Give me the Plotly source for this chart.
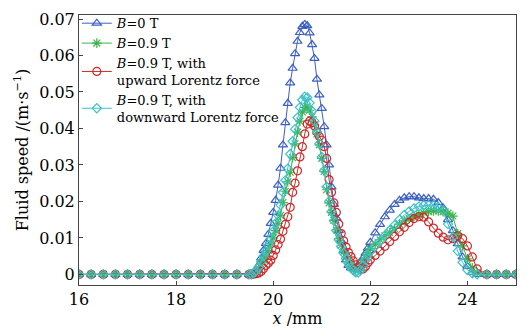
import plotly.graph_objects as go

x_flat = [16.0, 16.25, 16.5, 16.75, 17.0, 17.25, 17.5, 17.75, 18.0, 18.25, 18.5, 18.75, 19.0, 19.25, 19.5]
x_dense = [19.55, 19.60, 19.65, 19.70, 19.75, 19.80, 19.85, 19.90, 19.95, 20.00,
           20.05, 20.10, 20.15, 20.20, 20.25, 20.30, 20.35, 20.40, 20.45, 20.50,
           20.55, 20.60, 20.65, 20.70, 20.75, 20.80, 20.85, 20.90, 20.95, 21.00,
           21.05, 21.10, 21.15, 21.20, 21.25, 21.30, 21.35, 21.40, 21.45, 21.50,
           21.55, 21.60, 21.65, 21.70, 21.75, 21.80, 21.85, 21.90, 21.95]
x_hump = [22.0, 22.1, 22.2, 22.3, 22.4, 22.5, 22.6, 22.7, 22.8, 22.9, 23.0,
          23.1, 23.2, 23.3, 23.4, 23.5, 23.6, 23.7, 23.8, 23.9, 24.0, 24.1, 24.2]
x_tail = [24.4, 24.6, 24.8, 25.0]
x_mm = x_flat + x_dense + x_hump + x_tail

flat_zero = [0.0, 0.0, 0.0, 0.0, 0.0, 0.0, 0.0, 0.0, 0.0, 0.0, 0.0, 0.0, 0.0, 0.0, 0.0]
tail_zero = [0.0, 0.0, 0.0, 0.0]

b0_dense = [0.0002, 0.0005, 0.0011, 0.0025, 0.0045, 0.0066, 0.0085, 0.0110, 0.0140, 0.0170,
            0.0203, 0.0245, 0.0291, 0.0355, 0.0416, 0.0469, 0.0525, 0.0565, 0.0605, 0.0639,
            0.0663, 0.0680, 0.0685, 0.0682, 0.0662, 0.0630, 0.0592, 0.0535, 0.0492, 0.0455,
            0.0405, 0.0355, 0.0300, 0.0240, 0.0192, 0.0155, 0.0120, 0.0092, 0.0065, 0.0040,
            0.0025, 0.0018, 0.0015, 0.0016, 0.0022, 0.0033, 0.0045, 0.0058, 0.0072]
b0_hump = [0.0088, 0.0114, 0.0137, 0.0158, 0.0176, 0.0192, 0.0203, 0.0210, 0.0213, 0.0213, 0.0210,
           0.0208, 0.0208, 0.0206, 0.0197, 0.0182, 0.0150, 0.0120, 0.0084, 0.0048, 0.0022, 0.0006, 0.0]

b9_dense = [0.0, 0.0003, 0.0008, 0.0015, 0.0028, 0.0040, 0.0050, 0.0066, 0.0084, 0.0100,
            0.0120, 0.0140, 0.0162, 0.0197, 0.0228, 0.0254, 0.0280, 0.0320, 0.0358, 0.0390,
            0.0420, 0.0445, 0.0458, 0.0460, 0.0450, 0.0432, 0.0410, 0.0385, 0.0355, 0.0318,
            0.0282, 0.0232, 0.0196, 0.0170, 0.0148, 0.0122, 0.0098, 0.0080, 0.0062, 0.0047,
            0.0035, 0.0023, 0.0015, 0.0010, 0.0012, 0.0020, 0.0033, 0.0047, 0.0060]
b9_hump = [0.0070, 0.0083, 0.0095, 0.0106, 0.0115, 0.0126, 0.0138, 0.0147, 0.0153, 0.0159, 0.0165,
           0.0169, 0.0172, 0.0174, 0.0174, 0.0172, 0.0168, 0.0160, 0.0112, 0.0078, 0.0043, 0.0018, 0.0005]

up_dense = [0.0, 0.0001, 0.0002, 0.0004, 0.0008, 0.0016, 0.0025, 0.0031, 0.0039, 0.0052,
            0.0067, 0.0082, 0.0097, 0.0118, 0.0137, 0.0158, 0.0184, 0.0225, 0.0250, 0.0284,
            0.0322, 0.0350, 0.0385, 0.0412, 0.0420, 0.0416, 0.0407, 0.0390, 0.0378, 0.0368,
            0.0350, 0.0318, 0.0260, 0.0225, 0.0196, 0.0170, 0.0138, 0.0112, 0.0092, 0.0075,
            0.0060, 0.0049, 0.0037, 0.0026, 0.0018, 0.0014, 0.0015, 0.0022, 0.0032]
up_hump = [0.0040, 0.0052, 0.0064, 0.0077, 0.0090, 0.0104, 0.0117, 0.0129, 0.0142, 0.0153, 0.0158,
           0.0157, 0.0144, 0.0127, 0.0113, 0.0102, 0.0095, 0.0098, 0.0106, 0.0098, 0.0078, 0.0048, 0.0015]

down_dense = [0.0, 0.0004, 0.0010, 0.0020, 0.0035, 0.0050, 0.0063, 0.0080, 0.0098, 0.0118,
              0.0140, 0.0162, 0.0190, 0.0225, 0.0258, 0.0290, 0.0330, 0.0365, 0.0398, 0.0430,
              0.0458, 0.0478, 0.0487, 0.0485, 0.0470, 0.0448, 0.0420, 0.0390, 0.0358, 0.0322,
              0.0285, 0.0240, 0.0200, 0.0172, 0.0147, 0.0120, 0.0095, 0.0076, 0.0058, 0.0043,
              0.0030, 0.0019, 0.0011, 0.0006, 0.0005, 0.0012, 0.0025, 0.0040, 0.0052]
down_hump = [0.0062, 0.0077, 0.0091, 0.0107, 0.0121, 0.0135, 0.0150, 0.0163, 0.0173, 0.0181, 0.0186,
             0.0189, 0.0190, 0.0189, 0.0185, 0.0175, 0.0138, 0.0102, 0.0064, 0.0033, 0.0012, 0.0003, 0.0]

speed_b0 = flat_zero + b0_dense + b0_hump + tail_zero
speed_b9 = flat_zero + b9_dense + b9_hump + tail_zero
speed_up = flat_zero + up_dense + up_hump + tail_zero
speed_down = flat_zero + down_dense + down_hump + tail_zero

names = ["<i>B</i>=0 T", "<i>B</i>=0.9 T",
         "<i>B</i>=0.9 T, with<br>upward Lorentz force",
         "<i>B</i>=0.9 T, with<br>downward Lorentz force"]
series = [speed_b0, speed_b9, speed_up, speed_down]
colors = ["#3b5fc4", "#3cb44b", "#d02828", "#3cc0c8"]
symbols = ["triangle-up-open", "asterisk-open", "circle-open", "diamond-open"]
sizes = [8, 8, 8, 7]

FONT = "DejaVu Serif"
fig = go.Figure()
for n, s, c, sym, sz in zip(names, series, colors, symbols, sizes):
    fig.add_trace(go.Scatter(
        x=x_mm, y=s, name=n, mode="lines+markers",
        line=dict(color=c, width=1),
        marker=dict(symbol=sym, size=sz, color=c, line=dict(color=c, width=1.2)),
    ))

fig.update_layout(
    width=527, height=331,
    margin=dict(l=79, r=11, t=8, b=46),
    paper_bgcolor="white", plot_bgcolor="white",
    font=dict(family=FONT, color="black", size=16),
    showlegend=True,
    legend=dict(x=-0.005, y=1.025, xanchor="left", yanchor="top",
                bgcolor="rgba(0,0,0,0)", borderwidth=0,
                font=dict(family=FONT, size=13), tracegroupgap=0,
                itemwidth=30),
    xaxis=dict(range=[16, 25], tickvals=[16, 18, 20, 22, 24],
               ticks="inside", ticklen=4, tickcolor="#444",
               showline=True, linecolor="#444", linewidth=1, mirror=True,
               showgrid=False, zeroline=False,
               tickfont=dict(size=16),
               title=dict(text="<i>x</i> /mm", font=dict(size=16), standoff=2)),
    yaxis=dict(range=[-0.0029, 0.0711],
               tickvals=[0, 0.01, 0.02, 0.03, 0.04, 0.05, 0.06, 0.07],
               ticktext=["0", "0.01", "0.02", "0.03", "0.04", "0.05", "0.06", "0.07"],
               ticks="inside", ticklen=4, tickcolor="#444",
               showline=True, linecolor="#444", linewidth=1, mirror=True,
               showgrid=False, zeroline=False,
               tickfont=dict(size=16),
               title=dict(text="Fluid speed /(m·s<sup>−1</sup>)", font=dict(size=16), standoff=6)),
)

fig.write_html("out.html")
